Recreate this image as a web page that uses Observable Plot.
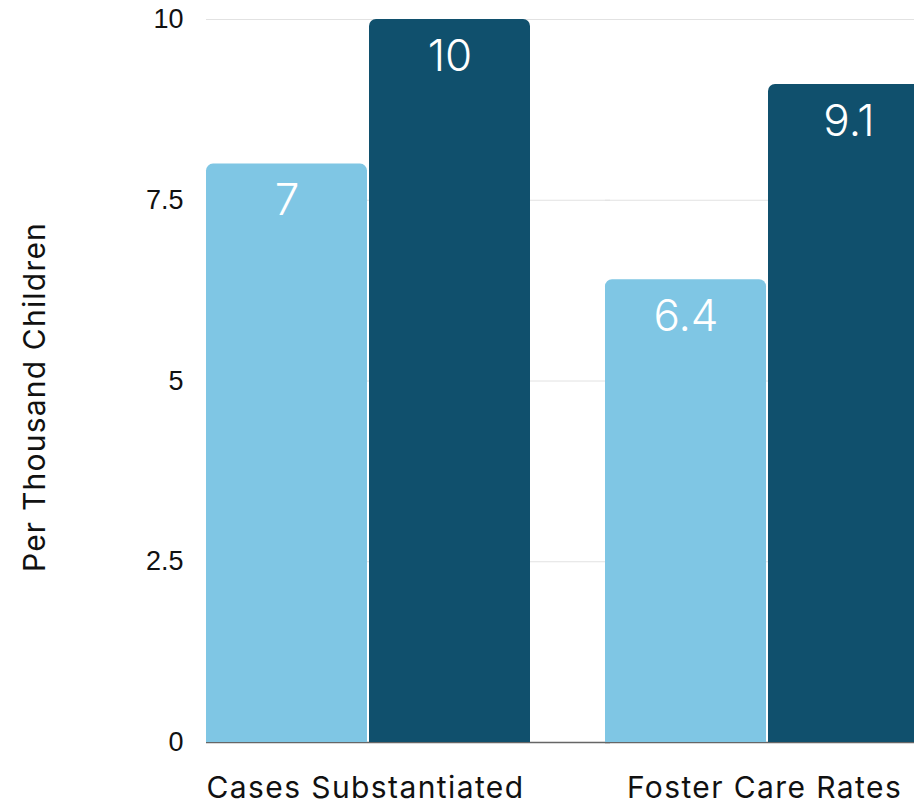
<!DOCTYPE html>
<html>
<head>
<meta charset="utf-8">
<script src="https://cdn.jsdelivr.net/npm/d3@7"></script>
<script src="https://cdn.jsdelivr.net/npm/@observablehq/plot@0.6"></script>
<style>
  html, body { margin: 0; padding: 0; background: white; overflow: hidden; }
  #chart { width: 914px; height: 806px; overflow: hidden; }
</style>
</head>
<body>
<div id="chart"></div>
<script>
const groups = ["Cases Substantiated", "Foster Care Rates"];
const series = ["Series 1", "Series 2"];
const barValues = [8, 10, 6.4, 9.1];
const barLabels = ["7", "10", "6.4", "9.1"];
const yTicks = [0, 2.5, 5, 7.5, 10];
const yTickLabels = ["0", "2.5", "5", "7.5", "10"];
const yTitle = "Per Thousand Children";

const data = groups.flatMap((g, i) => series.map((s, j) => ({
  group: g, series: s, value: barValues[i * 2 + j], label: barLabels[i * 2 + j]
})));

const chart = Plot.plot({
  width: 914,
  height: 806,
  marginTop: 19,
  marginBottom: 64,
  marginLeft: 206,
  marginRight: -15,
  style: { fontFamily: "Liberation Sans", background: "white", overflow: "hidden" },
  fx: { domain: groups, paddingInner: 0.188, paddingOuter: 0, label: null, axis: null },
  x: { domain: series, paddingInner: 0.014, paddingOuter: 0, axis: null },
  y: { domain: [0, 10], axis: null },
  color: { domain: series, range: ["#7fc6e4", "#10506d"] },
  marks: [
    Plot.ruleY(yTicks.filter(d => d > 0), { stroke: "#e2e2e2", strokeWidth: 1, insetRight: -80 }),
    Plot.ruleY([0], { stroke: "#666666", strokeWidth: 1.5, insetRight: -80 }),
    Plot.barY(data, { fx: "group", x: "series", y: "value", fill: "series", ry1: 7 }),
    Plot.text(data, {
      fx: "group", x: "series", y: "value", text: "label",
      fill: "white", fontSize: 44, fontFamily: "Inter", fontWeight: 300, lineAnchor: "top", dy: 20
    }),
    Plot.axisY({
      ticks: yTicks, tickFormat: d => yTickLabels[yTicks.indexOf(d)],
      tickSize: 0, tickPadding: 23, fontSize: 27, label: null, fill: "#111"
    }),
    Plot.axisFx({
      anchor: "bottom", tickSize: 0, tickPadding: 34, fontSize: 30, fontFamily: "Inter",
      fontWeight: 400, label: null, fill: "#111", dx: -3
    }),
    Plot.text([yTitle], {
      frameAnchor: "left", textAnchor: "middle", dx: -171, dy: 16, rotate: -90, facet: "super",
      fontSize: 30, fontFamily: "Inter", fill: "#111"
    })
  ]
});
document.getElementById("chart").appendChild(chart);

const svg = d3.select(chart);
svg.selectAll("text").filter(function () { return groups.includes(this.textContent); })
  .attr("letter-spacing", "1.4px");
svg.selectAll("text").filter(function () { return this.textContent === yTitle; })
  .attr("letter-spacing", "1.2px");
</script>
</body>
</html>
